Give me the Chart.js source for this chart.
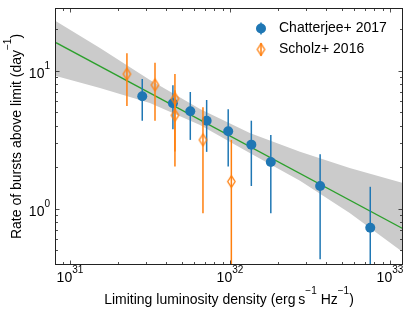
<!DOCTYPE html>
<html>
<head>
<meta charset="utf-8">
<script src="https://cdn.jsdelivr.net/npm/chart.js@4"></script>
<style>
html, body { margin: 0; background: #fff; }
</style>
</head>
<body>
<canvas id="grafico" width="415" height="312"></canvas>
<script>
// Chatterjee+ 2017 (value, upper and lower end of error bar)
var chatX  = [2.83e31, 4.40e31, 5.65e31, 7.15e31, 9.75e31, 1.36e32, 1.80e32, 3.66e32, 7.53e32];
var chatY  = [6.52, 5.80, 5.08, 4.34, 3.64, 2.91, 2.18, 1.46, 0.728];
var chatHi = [8.71, 7.84, 7.01, 6.13, 5.25, 4.34, 3.42, 2.48, 1.44];
var chatLo = [4.34, 3.76, 3.15, 2.58, 2.02, 1.46, 0.926, 0.43, 0.2];

// Scholz+ 2016
var schX  = [2.27e31, 3.40e31, 4.53e31, 4.53e31, 6.78e31, 1.02e32];
var schY  = [9.46, 7.88, 6.27, 4.75, 3.15, 1.57];
var schHi = [13.4, 11.4, 9.46, 7.2, 5.43, 3.15];
var schLo = [5.55, 4.34, 2.02, 2.6, 0.926, 0.1];

// power-law fit and its band
var fitX = [8.18e30, 1.19e33];
var fitY = [15.96, 0.721];
var bandX  = [8.18e30, 1.54e31, 3.16e31, 6.5e31, 1.33e32, 2.74e32, 5.6e32, 1.19e33];
var bandHi = [22.8, 14.6, 8.56, 5.28, 3.54, 2.58, 1.97, 1.54];
var bandLo = [9.15, 7.49, 5.83, 4.04, 2.53, 1.59, 0.931, 0.488];

// axes
var xMin = 8.18e30, xMax = 1.189e33;
var yMin = 0.397, yMax = 28.0;
var xMajor = [1e31, 1e32, 1e33];
var xExp = ['31', '32', '33'];
var yMajor = [1, 10];
var yExp = ['0', '1'];

var azul = '#1f77b4';
var laranja = '#ff7f0e';
var verde = '#2ca02c';
var fonte = '"Liberation Sans", Arial, sans-serif';

function pts(xs, ys) {
    var out = [];
    for (var i = 0; i < xs.length; i++) out.push({x: xs[i], y: ys[i]});
    return out;
}

function diamante() {
    var c = document.createElement('canvas');
    c.width = 11; c.height = 15;
    var g = c.getContext('2d');
    g.strokeStyle = laranja;
    g.lineWidth = 1.3;
    g.beginPath();
    g.moveTo(5.5, 1.6);
    g.lineTo(9.2, 7.5);
    g.lineTo(5.5, 13.4);
    g.lineTo(1.8, 7.5);
    g.closePath();
    g.stroke();
    return c;
}
var marcaLaranja = diamante();

function minors(lo, hi) {
    var out = [];
    for (var e = Math.floor(Math.log10(lo)); e <= Math.ceil(Math.log10(hi)); e++) {
        for (var m = 2; m <= 9; m++) {
            var v = m * Math.pow(10, e);
            if (v >= lo && v <= hi) out.push(v);
        }
    }
    return out;
}

// draws text pieces, sup pieces raised and smaller; returns width
function pedacos(ctx, partes, x, y, medir) {
    var w = 0;
    for (var i = 0; i < partes.length; i++) {
        var p = partes[i];
        ctx.font = (p.sup ? '10px ' : '14px ') + fonte;
        if (!medir) ctx.fillText(p.t, x + w, p.sup ? y - 9.5 : y);
        w += ctx.measureText(p.t).width;
    }
    return w;
}

function barras(chart, xs, hi, lo, cor) {
    var ctx = chart.ctx, a = chart.chartArea;
    var sx = chart.scales.x, sy = chart.scales.y;
    ctx.save();
    ctx.beginPath();
    ctx.rect(a.left, a.top, a.right - a.left, a.bottom - a.top);
    ctx.clip();
    ctx.strokeStyle = cor;
    ctx.lineWidth = 1.5;
    for (var i = 0; i < xs.length; i++) {
        var px = sx.getPixelForValue(xs[i]);
        ctx.beginPath();
        ctx.moveTo(px, sy.getPixelForValue(hi[i]));
        ctx.lineTo(px, sy.getPixelForValue(lo[i]));
        ctx.stroke();
    }
    ctx.restore();
}

var errorBars = {
    id: 'errorBars',
    beforeDatasetDraw: function(chart, args) {
        if (args.index === 3) barras(chart, chatX, chatHi, chatLo, azul);
        if (args.index === 4) barras(chart, schX, schHi, schLo, laranja);
    }
};

var eixos = {
    id: 'eixos',
    afterDraw: function(chart) {
        var ctx = chart.ctx, a = chart.chartArea;
        var sx = chart.scales.x, sy = chart.scales.y;
        var i, p;
        ctx.save();
        // frame
        ctx.strokeStyle = '#222';
        ctx.lineWidth = 1;
        ctx.strokeRect(a.left - 0.5, a.top - 0.5, a.right - a.left + 1, a.bottom - a.top + 1);
        // ticks, inward on all sides
        ctx.lineWidth = 0.8;
        function tx(v, len) {
            p = Math.round(sx.getPixelForValue(v)) + 0.5;
            ctx.beginPath();
            ctx.moveTo(p, a.bottom); ctx.lineTo(p, a.bottom - len);
            ctx.moveTo(p, a.top); ctx.lineTo(p, a.top + len);
            ctx.stroke();
        }
        function ty(v, len) {
            p = Math.round(sy.getPixelForValue(v)) + 0.5;
            ctx.beginPath();
            ctx.moveTo(a.left, p); ctx.lineTo(a.left + len, p);
            ctx.moveTo(a.right, p); ctx.lineTo(a.right - len, p);
            ctx.stroke();
        }
        xMajor.forEach(function(v) { tx(v, 3.5); });
        minors(xMin, xMax).forEach(function(v) { tx(v, 2); });
        yMajor.forEach(function(v) { ty(v, 3.5); });
        minors(yMin, yMax).forEach(function(v) { ty(v, 2); });

        // tick labels
        ctx.fillStyle = '#000';
        ctx.textBaseline = 'alphabetic';
        ctx.textAlign = 'left';
        for (i = 0; i < xMajor.length; i++) {
            var partes = [{t: '10'}, {t: xExp[i], sup: true}];
            var w = pedacos(ctx, partes, 0, 0, true);
            pedacos(ctx, partes, sx.getPixelForValue(xMajor[i]) - w / 2, 282, false);
        }
        for (i = 0; i < yMajor.length; i++) {
            var partesY = [{t: '10'}, {t: yExp[i], sup: true}];
            var wy = pedacos(ctx, partesY, 0, 0, true);
            pedacos(ctx, partesY, 50 - wy, sy.getPixelForValue(yMajor[i]) + 7.5, false);
        }

        // axis titles
        var tituloX = [{t: 'Limiting luminosity density (erg\u2009s'}, {t: '\u22121', sup: true},
                       {t: ' Hz'}, {t: '\u22121', sup: true}, {t: ')'}];
        var wt = pedacos(ctx, tituloX, 0, 0, true);
        pedacos(ctx, tituloX, (a.left + a.right) / 2 - wt / 2, 303.5, false);

        var tituloY = [{t: 'Rate of bursts above limit (day'}, {t: '\u22121', sup: true}, {t: ')'}];
        var wty = pedacos(ctx, tituloY, 0, 0, true);
        ctx.save();
        ctx.translate(20.5, (a.top + a.bottom) / 2);
        ctx.rotate(-Math.PI / 2);
        pedacos(ctx, tituloY, -wty / 2, 0, false);
        ctx.restore();

        // legend
        var lx = 261;
        ctx.lineWidth = 1.5;
        ctx.strokeStyle = azul;
        ctx.beginPath(); ctx.moveTo(lx, 22.5); ctx.lineTo(lx, 34.5); ctx.stroke();
        ctx.fillStyle = azul;
        ctx.beginPath(); ctx.arc(lx, 28.5, 5, 0, Math.PI * 2); ctx.fill();
        ctx.strokeStyle = laranja;
        ctx.beginPath(); ctx.moveTo(lx, 43); ctx.lineTo(lx, 56); ctx.stroke();
        ctx.drawImage(marcaLaranja, lx - 5.5, 49.5 - 7.5);
        ctx.fillStyle = '#000';
        ctx.font = '14px ' + fonte;
        ctx.textBaseline = 'middle';
        ctx.fillText('Chatterjee+ 2017', 279, 28.5);
        ctx.fillText('Scholz+ 2016', 279, 49.5);
        ctx.restore();
    }
};

var ctx = document.getElementById('grafico').getContext('2d');
var chart = new Chart(ctx, {
    type: 'line',
    data: {
        datasets: [{
            label: 'band upper',
            data: pts(bandX, bandHi),
            borderWidth: 0,
            pointRadius: 0,
            backgroundColor: '#cbcbcb',
            fill: '+1',
            order: 5
        }, {
            label: 'band lower',
            data: pts(bandX, bandLo),
            borderWidth: 0,
            pointRadius: 0,
            fill: false,
            order: 4
        }, {
            label: 'fit',
            data: pts(fitX, fitY),
            borderColor: verde,
            borderWidth: 1.3,
            pointRadius: 0,
            fill: false,
            order: 3
        }, {
            label: 'Chatterjee+ 2017',
            data: pts(chatX, chatY),
            showLine: false,
            pointStyle: 'circle',
            pointRadius: 5,
            pointBorderWidth: 0,
            pointBackgroundColor: azul,
            borderColor: azul,
            order: 2
        }, {
            label: 'Scholz+ 2016',
            data: pts(schX, schY),
            showLine: false,
            pointStyle: marcaLaranja,
            pointRadius: 6,
            borderColor: laranja,
            order: 1
        }]
    },
    options: {
        responsive: false,
        animation: false,
        layout: { padding: { left: 56, right: 13, top: 9, bottom: 48 } },
        scales: {
            x: { type: 'logarithmic', min: xMin, max: xMax, display: false },
            y: { type: 'logarithmic', min: yMin, max: yMax, display: false }
        },
        plugins: {
            legend: { display: false },
            tooltip: { enabled: false }
        }
    },
    plugins: [errorBars, eixos]
});
</script>
</body>
</html>
